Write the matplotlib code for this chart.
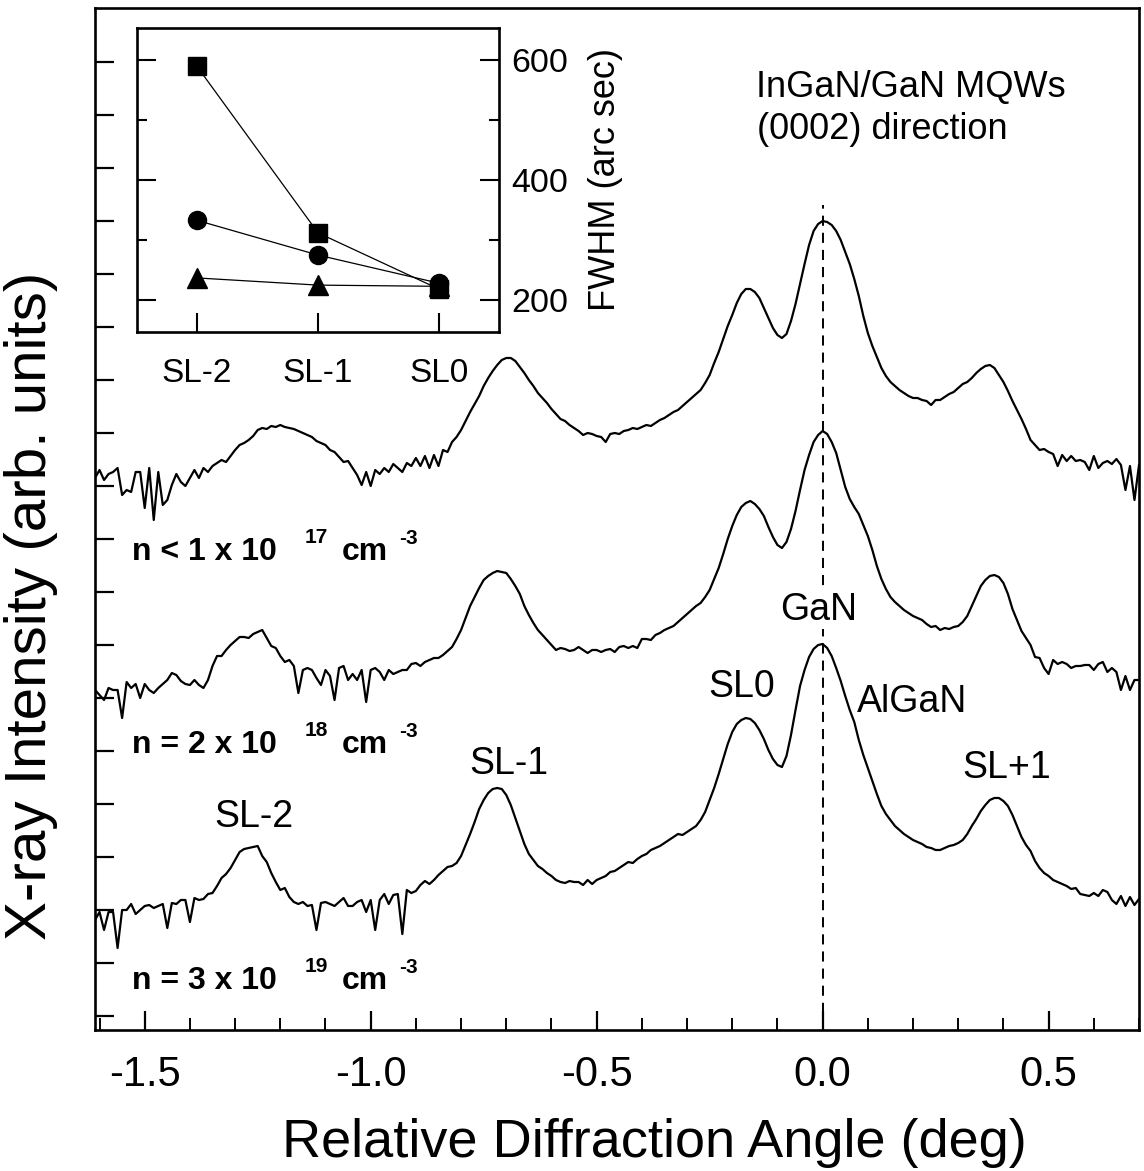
import matplotlib

matplotlib.use("Agg")

import matplotlib.pyplot as plt
import numpy as np
from matplotlib.ticker import FixedLocator, FormatStrFormatter, MultipleLocator

plt.rcParams["font.family"] = ["Liberation Sans", "DejaVu Sans"]
plt.rcParams["axes.unicode_minus"] = False

# common scan grid, 0.01 deg step
angle = np.round(np.arange(-161, 71) * 0.01, 2)

# stacked (0002) scans, arb. units with vertical offsets
trace_1e17 = [
    538, 546, 536, 542, 544, 548, 521, 526, 524, 544,
    544, 508, 548, 496, 544, 511, 516, 531, 542, 534,
    530, 538, 546, 538, 548, 544, 550, 553, 556, 554,
    560, 566, 571, 573, 576, 580, 586, 588, 587, 590,
    589, 591, 589, 588, 587, 585, 583, 581, 579, 575,
    573, 571, 566, 564, 559, 554, 555, 548, 541, 531,
    544, 530, 546, 542, 548, 544, 552, 548, 544, 553,
    550, 558, 550, 560, 548, 561, 550, 566, 564, 574,
    579, 586, 595, 604, 612, 620, 630, 638, 645, 651,
    656, 658, 658, 655, 649, 643, 636, 630, 623, 618,
    613, 607, 602, 597, 595, 591, 588, 585, 581, 583,
    582, 580, 579, 574, 582, 583, 582, 585, 586, 588,
    587, 589, 591, 590, 593, 596, 598, 601, 604, 606,
    610, 614, 618, 622, 626, 633, 641, 653, 664, 677,
    690, 701, 713, 722, 727, 727, 724, 718, 708, 698,
    688, 681, 678, 682, 695, 712, 732, 752, 771, 785,
    792, 795, 794, 791, 785, 776, 764, 752, 737, 720,
    700, 683, 670, 659, 648, 640, 634, 630, 626, 623,
    620, 618, 618, 616, 615, 611, 616, 616, 619, 622,
    624, 628, 632, 634, 638, 643, 647, 650, 651, 648,
    641, 634, 625, 615, 606, 597, 587, 576, 571, 566,
    567, 564, 562, 550, 561, 555, 560, 555, 556, 554,
    546, 560, 548, 553, 555, 552, 557, 551, 526, 550,
    516, 551,
]
trace_2e18 = [
    326, 321, 316, 328, 326, 326, 298, 334, 328, 332,
    318, 332, 326, 323, 328, 332, 336, 343, 341, 335,
    332, 331, 336, 331, 328, 336, 350, 360, 360, 366,
    371, 375, 379, 379, 378, 382, 384, 386, 378, 370,
    368, 360, 354, 356, 350, 323, 346, 348, 346, 338,
    331, 346, 340, 316, 348, 350, 336, 342, 336, 346,
    314, 346, 348, 344, 336, 346, 342, 344, 346, 346,
    352, 353, 350, 354, 356, 358, 358, 361, 365, 369,
    377, 386, 398, 410, 419, 428, 436, 440, 443, 445,
    444, 443, 437, 430, 422, 410, 401, 393, 386, 381,
    376, 371, 366, 368, 367, 365, 366, 369, 366, 363,
    366, 366, 364, 366, 367, 364, 369, 370, 368, 370,
    368, 377, 377, 376, 381, 383, 386, 388, 390, 394,
    398, 402, 406, 410, 413, 419, 426, 437, 448, 462,
    477, 490, 501, 509, 513, 515, 512, 507, 500, 489,
    479, 471, 468, 474, 487, 505, 526, 546, 561, 574,
    581, 585, 582, 574, 563, 546, 529, 517, 509, 502,
    491, 480, 466, 450, 437, 427, 419, 414, 410, 406,
    403, 400, 398, 396, 392, 389, 390, 386, 388, 387,
    389, 390, 394, 400, 410, 420, 430, 436, 440, 441,
    439, 433, 422, 407, 396, 385, 378, 371, 359, 358,
    348, 342, 356, 352, 354, 352, 348, 350, 350, 351,
    351, 346, 352, 354, 344, 348, 344, 326, 340, 326,
    336, 336,
]
trace_3e19 = [
    96, 104, 86, 104, 104, 68, 106, 106, 112, 102,
    106, 110, 111, 108, 110, 112, 88, 113, 112, 116,
    116, 94, 118, 116, 117, 122, 123, 130, 138, 142,
    148, 156, 164, 167, 168, 169, 170, 160, 154, 143,
    134, 126, 128, 119, 114, 112, 114, 110, 111, 86,
    113, 114, 112, 110, 114, 118, 110, 110, 114, 116,
    104, 116, 86, 116, 122, 112, 121, 122, 82, 126,
    123, 125, 131, 135, 132, 136, 141, 145, 149, 150,
    153, 160, 171, 182, 194, 207, 216, 223, 227, 228,
    227, 221, 211, 198, 185, 172, 162, 156, 150, 147,
    143, 140, 136, 134, 133, 135, 134, 134, 131, 136,
    132, 136, 138, 140, 144, 145, 148, 151, 154, 153,
    157, 160, 162, 166, 168, 170, 173, 176, 179, 182,
    181, 184, 187, 190, 196, 204, 216, 228, 242, 257,
    272, 284, 292, 296, 298, 297, 293, 286, 277, 266,
    257, 251, 249, 260, 281, 306, 330, 346, 359, 367,
    371, 372, 368, 360, 348, 335, 320, 306, 294, 276,
    261, 248, 235, 222, 210, 202, 196, 190, 186, 182,
    179, 176, 174, 172, 169, 168, 166, 166, 168, 170,
    171, 173, 176, 182, 190, 197, 205, 211, 216, 218,
    218, 215, 210, 201, 190, 179, 171, 165, 155, 148,
    143, 140, 136, 134, 132, 130, 127, 128, 122, 121,
    120, 123, 120, 126, 124, 116, 112, 120, 110, 119,
    111, 117,
]

# carrier concentration labels: mantissa text, exponent
doping_text = ["n < 1 x 10", "n = 2 x 10", "n = 3 x 10"]
doping_exp = ["17", "18", "19"]

# inset: satellite peak widths
peaks = ["SL-2", "SL-1", "SL0"]
fwhm_square = [590, 312, 218]
fwhm_circle = [333, 275, 228]
fwhm_triangle = [237, 225, 223]

fig = plt.figure(figsize=(11.44, 11.71), dpi=100)
ax = fig.add_axes([0.08304, 0.12041, 0.91259, 0.87276])

for trace in (trace_1e17, trace_2e18, trace_3e19):
    ax.plot(angle, trace, color="black", lw=1.6, solid_joinstyle="round")

ax.vlines(0.0, -14, 811, colors="black", lw=1.4, linestyles=(0, (5.2, 3.6)), zorder=1)

ax.set_xlim(-1.61, 0.70)
ax.set_ylim(-14, 1008)
ax.xaxis.set_major_locator(MultipleLocator(0.5))
ax.xaxis.set_minor_locator(MultipleLocator(0.1))
ax.xaxis.set_major_formatter(FormatStrFormatter("%.1f"))
ax.yaxis.set_major_locator(FixedLocator(np.arange(0, 955, 53)))
ax.tick_params(axis="x", which="major", direction="in", length=14, width=1.6,
               labelsize=30, pad=18)
ax.tick_params(axis="x", which="minor", direction="in", length=8.5, width=1.4)
ax.tick_params(axis="y", which="major", direction="in", length=14, width=1.6,
               labelleft=False)
for sp in ax.spines.values():
    sp.set_linewidth(1.9)

ax.set_xlabel("Relative Diffraction Angle (deg)", fontsize=39)
ax.xaxis.set_label_coords(0.536, -0.086)
ax.set_ylabel("X-ray Intensity (arb. units)", fontsize=42)
ax.yaxis.set_label_coords(-0.0355, 0.415)

# peak assignments
ax.text(-1.258, 189, "SL-2", fontsize=27, ha="center", va="baseline")
ax.text(-0.694, 242, "SL-1", fontsize=27, ha="center", va="baseline")
ax.text(-0.180, 319, "SL0", fontsize=27, ha="center", va="baseline")
ax.text(-0.008, 396, "GaN", fontsize=27, ha="center", va="baseline",
        bbox=dict(facecolor="white", edgecolor="none", pad=1), zorder=3)
ax.text(0.198, 304, "AlGaN", fontsize=27, ha="center", va="baseline")
ax.text(0.408, 238, "SL+1", fontsize=27, ha="center", va="baseline")

ax.text(-0.147, 919, "InGaN/GaN MQWs", fontsize=26, ha="left", va="baseline")
ax.text(-0.145, 877, "(0002) direction", fontsize=26, ha="left", va="baseline")

for base, mant, ex in zip([456, 263, 27], doping_text, doping_exp):
    ax.text(-1.528, base, mant, fontsize=23, fontweight="bold", va="baseline")
    ax.text(-1.147, base + 17, ex, fontsize=15, fontweight="bold", va="baseline")
    ax.text(-1.063, base, "cm", fontsize=23, fontweight="bold", va="baseline")
    ax.text(-0.937, base + 16, "-3", fontsize=15, fontweight="bold", va="baseline")

# inset: FWHM vs satellite order
ins = fig.add_axes([0.1198, 0.7165, 0.3164, 0.2596])
pos = np.arange(len(peaks))
ins.plot(pos, fwhm_triangle, "-^", color="black", lw=0.9, ms=14)
ins.plot(pos, fwhm_circle, "-o", color="black", lw=0.9, ms=13)
ins.plot(pos, fwhm_square, "-s", color="black", lw=0.9, ms=12.5)
ins.set_xlim(-0.49, 2.49)
ins.set_ylim(147, 653)
ins.set_xticks(pos, peaks)
ins.set_yticks([200, 400, 600])
ins.yaxis.set_minor_locator(FixedLocator([300, 500]))
ins.tick_params(axis="x", direction="in", length=14, width=1.5, labelsize=24, pad=19)
ins.tick_params(axis="y", which="both", direction="in", left=True, right=True,
                labelleft=False, labelright=True, width=1.5, labelsize=24.5, pad=9)
ins.tick_params(axis="y", which="major", length=14)
ins.tick_params(axis="y", which="minor", length=7.5)
ins.yaxis.set_label_position("right")
ins.set_ylabel("FWHM (arc sec)", fontsize=26, labelpad=14)
for sp in ins.spines.values():
    sp.set_linewidth(1.9)

fig.savefig("out.png", dpi=100)
